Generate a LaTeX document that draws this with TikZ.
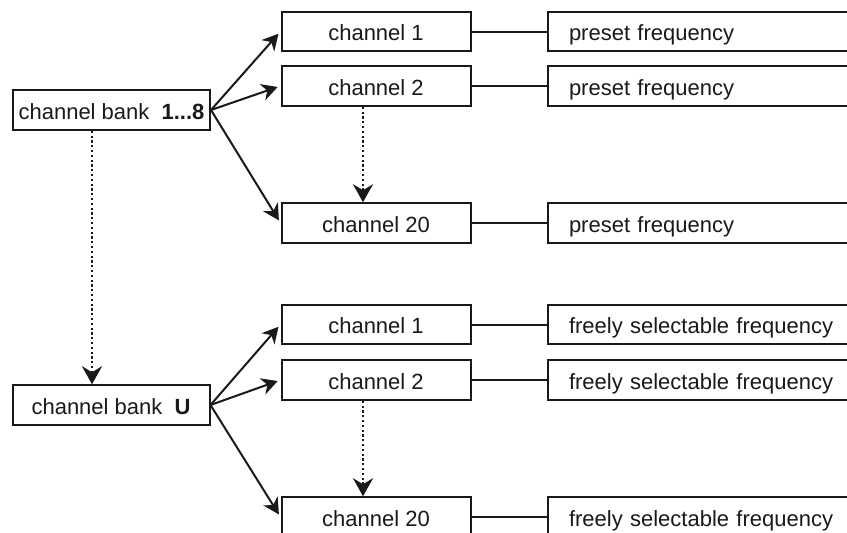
\documentclass[tikz,border=0pt]{standalone}
\usepackage{fontspec}
\setmainfont{Liberation Sans}
\usetikzlibrary{arrows.meta}
\begin{document}
\begin{tikzpicture}[x=1pt,y=-1pt,
  box/.style={draw=black!90, line width=2pt, inner sep=0pt, minimum height=39.5pt, text height=20pt, text depth=2pt, font=\fontsize{22}{24}\selectfont, text=black!90},
  bankbox/.style={box, minimum width=197pt},
  chbox/.style={box, minimum width=189pt},
  freqbox/.style={box, anchor=west, text width=283pt, inner xsep=21pt, align=left},
  link/.style={draw=black!90, line width=2pt},
  arr/.style={link, -{Stealth[length=16pt,width=17pt,inset=5pt]}, shorten >=3pt},
  dotarr/.style={draw=black!90, line width=2.4pt, dash pattern=on 2.2pt off 2.6pt, -{Stealth[length=18pt,width=20pt,inset=6pt]}}
]
\useasboundingbox (0,0) rectangle (847,533);
\clip (0,0) rectangle (847,533);

% upper group
\node[bankbox] (b1) at (111.5,110) {channel bank\hspace{0.55em}\textbf{1...8}};
\node[chbox] (c1) at (376,31.5) {channel 1};
\node[chbox] (c2) at (376,86) {channel 2};
\node[chbox] (c20) at (376,223) {channel 20};
\node[freqbox] (f1) at (547,31.5) {preset frequency};
\node[freqbox] (f2) at (547,86) {preset frequency};
\node[freqbox] (f20) at (547,223) {preset frequency};

% lower group
\node[bankbox] (bU) at (111,405) {channel bank\hspace{0.55em}\textbf{U}};
\node[chbox] (d1) at (376,324.5) {channel 1};
\node[chbox] (d2) at (376,380) {channel 2};
\node[chbox] (d20) at (376,517) {channel 20};
\node[freqbox] (g1) at (547,324.5) {freely selectable frequency};
\node[freqbox] (g2) at (547,380) {freely selectable frequency};
\node[freqbox] (g20) at (547,517) {freely selectable frequency};

% arrows from banks
\draw[arr] (b1.east) -- (c1.west);
\draw[arr] (b1.east) -- (c2.west);
\draw[arr] (b1.east) -- (c20.west);
\draw[arr] (bU.east) -- (d1.west);
\draw[arr] (bU.east) -- (d2.west);
\draw[arr] (bU.east) -- (d20.west);

% links to frequencies
\draw[link] (c1.east) -- (f1.west);
\draw[link] (c2.east) -- (f2.west);
\draw[link] (c20.east) -- (f20.west);
\draw[link] (d1.east) -- (g1.west);
\draw[link] (d2.east) -- (g2.west);
\draw[link] (d20.east) -- (g20.west);

% dotted arrows
\draw[dotarr] ([xshift=-19.5pt]b1.south) -- ([xshift=-19pt]bU.north);
\draw[dotarr] ([xshift=-13pt]c2.south) -- ([xshift=-13pt]c20.north);
\draw[dotarr] ([xshift=-13pt]d2.south) -- ([xshift=-13pt]d20.north);
\end{tikzpicture}
\end{document}
